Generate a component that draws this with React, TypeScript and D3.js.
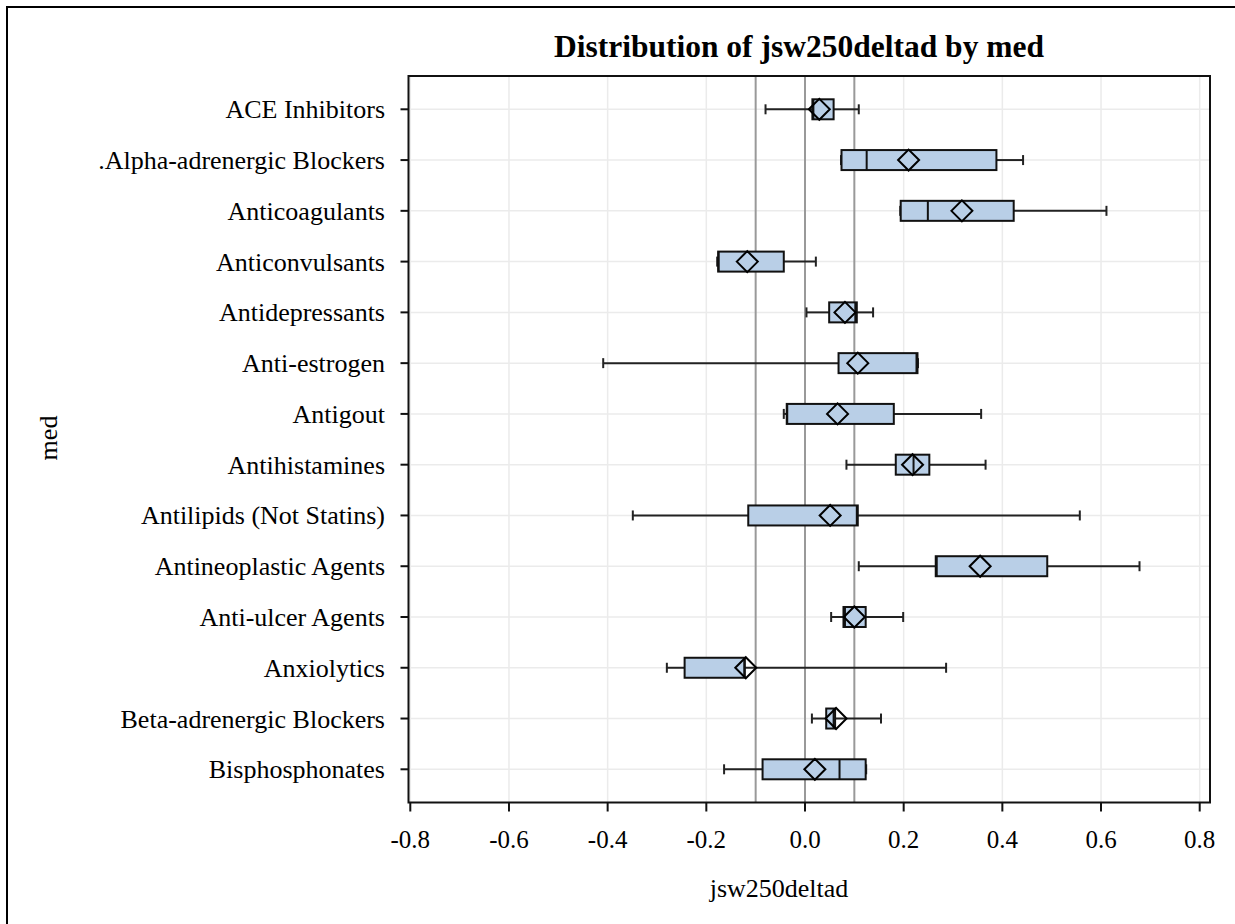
import React from "react";
import * as d3 from "d3";

const categories = [
  "ACE Inhibitors",
  ".Alpha-adrenergic Blockers",
  "Anticoagulants",
  "Anticonvulsants",
  "Antidepressants",
  "Anti-estrogen",
  "Antigout",
  "Antihistamines",
  "Antilipids (Not Statins)",
  "Antineoplastic Agents",
  "Anti-ulcer Agents",
  "Anxiolytics",
  "Beta-adrenergic Blockers",
  "Bisphosphonates",
];
const mins = [-0.08, 0.073, 0.193, -0.178, 0.003, -0.409, -0.043, 0.084, -0.349, 0.109, 0.053, -0.28, 0.014, -0.164];
const q1s = [0.015, 0.074, 0.194, -0.176, 0.049, 0.068, -0.037, 0.184, -0.115, 0.265, 0.078, -0.244, 0.043, -0.086];
const medians = [0.017, 0.125, 0.249, -0.175, 0.102, 0.226, -0.036, 0.22, 0.105, 0.267, 0.081, -0.123, 0.058, 0.07];
const q3s = [0.058, 0.388, 0.423, -0.043, 0.105, 0.228, 0.18, 0.252, 0.107, 0.491, 0.123, -0.122, 0.061, 0.123];
const maxs = [0.109, 0.442, 0.611, 0.022, 0.138, 0.229, 0.357, 0.366, 0.557, 0.678, 0.199, 0.286, 0.154, 0.124];
const means = [0.029, 0.21, 0.318, -0.117, 0.081, 0.107, 0.066, 0.218, 0.051, 0.355, 0.1, -0.12, 0.063, 0.02];
const xTicks = [-0.8, -0.6, -0.4, -0.2, 0.0, 0.2, 0.4, 0.6, 0.8];
const xTickLabels = ["-0.8", "-0.6", "-0.4", "-0.2", "0.0", "0.2", "0.4", "0.6", "0.8"];
const refLines = [-0.1, 0, 0.1];

const title = "Distribution of jsw250deltad by med";
const xLabel = "jsw250deltad";
const yLabel = "med";

export default function App() {
  const W = 1235, H = 924;
  const frame = { left: 408.5, right: 1210, top: 76, bottom: 802.5 };
  const x = d3.scaleLinear().domain([-0.8, 0.8]).range([410.3, 1199.7]);
  const y = d3.scalePoint<string>().domain(categories).range([109.3, 769.3]);
  const font = "'Liberation Serif', 'Times New Roman', serif";
  const boxH = 20;
  const capH = 10;
  const dia = 10.5;

  return (
    <div style={{ position: "fixed", left: 0, top: 0, width: W, height: H, background: "#fff", overflow: "hidden" }}>
      <svg width={W} height={H} style={{ display: "block" }}>
        <rect x={7} y={7} width={W + 20} height={H + 20} fill="#fff" stroke="#000" strokeWidth={2} />
        {/* grid */}
        {xTicks.map((t) => (
          <line key={"gx" + t} x1={x(t)} x2={x(t)} y1={frame.top} y2={frame.bottom} stroke="#ebebeb" strokeWidth={1.5} />
        ))}
        {categories.map((c) => (
          <line key={"gy" + c} x1={frame.left} x2={frame.right} y1={y(c)} y2={y(c)} stroke="#ebebeb" strokeWidth={1.5} />
        ))}
        {/* reference lines */}
        {refLines.map((r) => (
          <line key={"r" + r} x1={x(r)} x2={x(r)} y1={frame.top} y2={frame.bottom} stroke="#999" strokeWidth={2} />
        ))}
        {/* boxes */}
        {categories.map((c, i) => {
          const cy = y(c)!;
          return (
            <g key={"b" + c}>
              <line x1={x(mins[i])} x2={x(q1s[i])} y1={cy} y2={cy} stroke="#222" strokeWidth={2} />
              <line x1={x(q3s[i])} x2={x(maxs[i])} y1={cy} y2={cy} stroke="#222" strokeWidth={2} />
              <line x1={x(mins[i])} x2={x(mins[i])} y1={cy - capH / 2} y2={cy + capH / 2} stroke="#222" strokeWidth={2} />
              <line x1={x(maxs[i])} x2={x(maxs[i])} y1={cy - capH / 2} y2={cy + capH / 2} stroke="#222" strokeWidth={2} />
              <rect
                x={x(q1s[i])}
                y={cy - boxH / 2}
                width={x(q3s[i]) - x(q1s[i])}
                height={boxH}
                fill="#b9cfe7"
                stroke="#111"
                strokeWidth={2}
              />
              <line x1={x(medians[i])} x2={x(medians[i])} y1={cy - boxH / 2} y2={cy + boxH / 2} stroke="#111" strokeWidth={2} />
              <path
                d={`M${x(means[i]) - dia},${cy} L${x(means[i])},${cy - dia} L${x(means[i]) + dia},${cy} L${x(means[i])},${cy + dia} Z`}
                fill="none"
                stroke="#000"
                strokeWidth={2}
              />
            </g>
          );
        })}
        {/* frame */}
        <rect x={frame.left} y={frame.top} width={frame.right - frame.left} height={frame.bottom - frame.top} fill="none" stroke="#111" strokeWidth={2} />
        {/* y ticks and labels */}
        {categories.map((c) => (
          <g key={"yt" + c}>
            <line x1={frame.left - 8} x2={frame.left} y1={y(c)} y2={y(c)} stroke="#111" strokeWidth={2} />
            <text x={385} y={y(c)! + 9} textAnchor="end" fontFamily={font} fontSize={26} fill="#000">
              {c}
            </text>
          </g>
        ))}
        {/* x ticks and labels */}
        {xTicks.map((t, i) => (
          <g key={"xt" + t}>
            <line x1={x(t)} x2={x(t)} y1={frame.bottom} y2={frame.bottom + 9} stroke="#111" strokeWidth={2} />
            <text x={x(t)} y={848} textAnchor="middle" fontFamily={font} fontSize={25} fill="#000">
              {xTickLabels[i]}
            </text>
          </g>
        ))}
        <text x={779} y={897} textAnchor="middle" fontFamily={font} fontSize={26} fill="#000">
          {xLabel}
        </text>
        <text
          transform={`translate(57,438) rotate(-90)`}
          textAnchor="middle"
          fontFamily={font}
          fontSize={26}
          fill="#000"
        >
          {yLabel}
        </text>
        <text x={799} y={57} textAnchor="middle" fontFamily={font} fontSize={31.5} fontWeight="bold" fill="#000">
          {title}
        </text>
      </svg>
    </div>
  );
}
